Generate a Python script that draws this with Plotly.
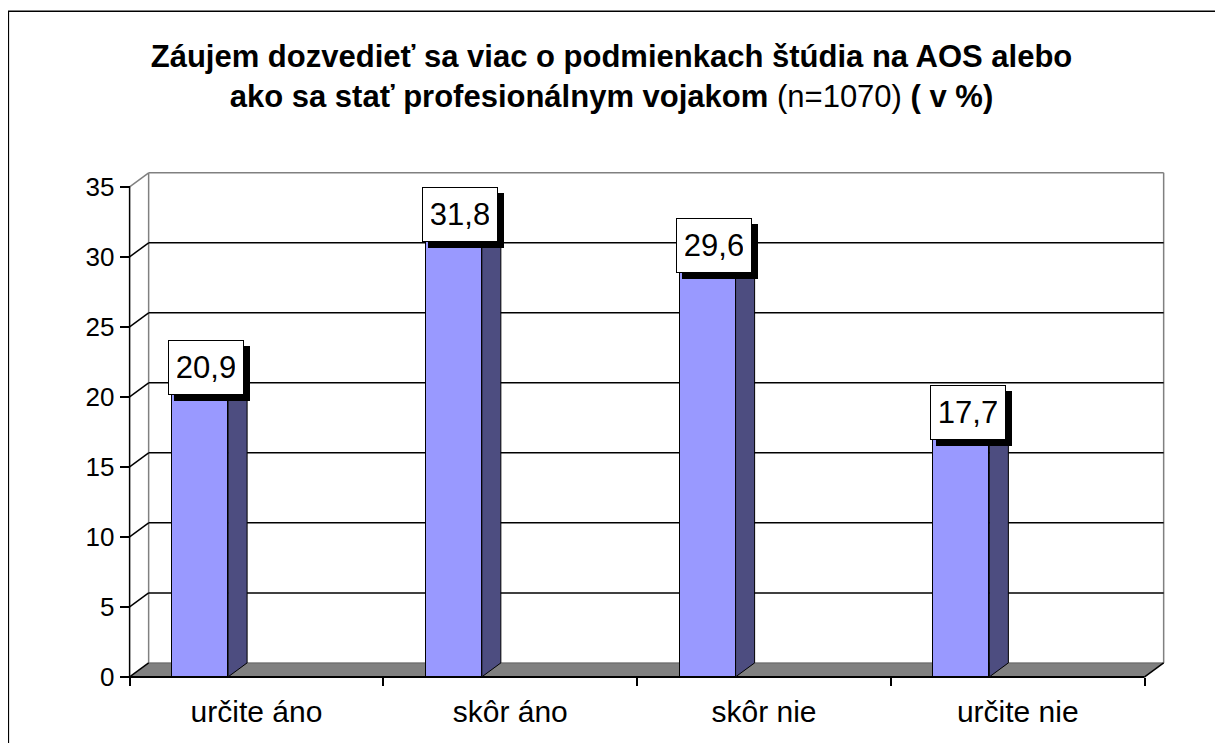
import plotly.graph_objects as go

# ---- data ----
categories = ["určite áno", "skôr áno", "skôr nie", "určite nie"]
values = [20.9, 31.8, 29.6, 17.7]
value_labels = ["20,9", "31,8", "29,6", "17,7"]
y_ticks = [0, 5, 10, 15, 20, 25, 30, 35]

# ---- geometry (in axis units) ----
FONT = "Liberation Sans, Arial, sans-serif"
PAGE_OFF = 8                    # default body margin of the html page
W, H = 1223 - 2 * PAGE_OFF, 751 - 2 * PAGE_OFF
UX, UY = 253.75, 14.0          # px per unit
X_LO, X_HI = -0.53, 3.6
Y_LO, Y_HI = -0.15, 36.2
AX_LEFT, AX_BOTTOM = 130.0 - PAGE_OFF, 677.0 - PAGE_OFF   # front-axis pixel position
DX, DY = 0.075, 1.0            # 3-D depth offset in axis units
BAR_OFF, BAR_W = -0.333, 0.221
YMAX = 35

left_px = AX_LEFT - (-0.5 - X_LO) * UX
right_px = AX_LEFT + (X_HI + 0.5) * UX
bottom_px = AX_BOTTOM + (0 - Y_LO) * UY
top_px = AX_BOTTOM - Y_HI * UY
plot_w = right_px - left_px
plot_h = bottom_px - top_px

FRONT = "#9999FF"
SIDE = "#4D4D80"
TOPC = "#B3B3FF"
GRAY = "#808080"

fig = go.Figure()
idx = list(range(len(categories)))
fig.add_trace(go.Bar(
    x=idx, y=values, offset=BAR_OFF, width=BAR_W,
    marker=dict(color=FRONT, line=dict(color="black", width=1)),
    hoverinfo="skip", showlegend=False,
))

shapes = []
xl, xr = -0.5, len(categories) - 0.5
# floor
shapes.append(dict(type="path", layer="below", xref="x", yref="y",
                   path=f"M{xl},0 L{xr},0 L{xr+DX},{DY} L{xl+DX},{DY} Z",
                   fillcolor=GRAY, line=dict(width=0)))
shapes.append(dict(type="line", layer="below", xref="x", yref="y",
                   x0=xl + DX, y0=DY, x1=xr + DX, y1=DY,
                   line=dict(color="#606060", width=1)))
# back wall edges
shapes.append(dict(type="line", layer="below", xref="x", yref="y",
                   x0=xl + DX, y0=DY, x1=xl + DX, y1=YMAX + DY,
                   line=dict(color=GRAY, width=1.5)))
shapes.append(dict(type="line", layer="below", xref="x", yref="y",
                   x0=xr + DX, y0=DY, x1=xr + DX, y1=YMAX + DY,
                   line=dict(color=GRAY, width=1.5)))
shapes.append(dict(type="line", layer="below", xref="x", yref="y",
                   x0=xl + DX, y0=YMAX + DY, x1=xr + DX, y1=YMAX + DY,
                   line=dict(color=GRAY, width=1.5)))
shapes.append(dict(type="line", layer="below", xref="x", yref="y",
                   x0=xl, y0=YMAX, x1=xl + DX, y1=YMAX + DY,
                   line=dict(color=GRAY, width=1.5)))
# gridlines
for v in y_ticks:
    if v == 0 or v == YMAX:
        continue
    shapes.append(dict(type="line", layer="below", xref="x", yref="y",
                       x0=xl + DX, y0=v + DY, x1=xr + DX, y1=v + DY,
                       line=dict(color="black", width=1.5)))
for v in y_ticks:
    if v == YMAX:
        continue
    shapes.append(dict(type="line", layer="below", xref="x", yref="y",
                       x0=xl, y0=v, x1=xl + DX, y1=v + DY,
                       line=dict(color="black", width=1.5)))
# front axes lines
shapes.append(dict(type="line", layer="above", xref="x", yref="y",
                   x0=xl, y0=0, x1=xl, y1=YMAX,
                   line=dict(color="black", width=1.5)))
shapes.append(dict(type="line", layer="above", xref="x", yref="y",
                   x0=xl, y0=0, x1=xr, y1=0,
                   line=dict(color="black", width=2)))
shapes.append(dict(type="line", layer="above", xref="x", yref="y",
                   x0=xr, y0=0, x1=xr + DX, y1=DY,
                   line=dict(color="black", width=1.5)))
# bar sides and tops
for i, v in zip(idx, values):
    x0 = i + BAR_OFF
    x1 = x0 + BAR_W
    shapes.append(dict(type="path", layer="above", xref="x", yref="y",
                       path=f"M{x1},0 L{x1+DX},{DY} L{x1+DX},{v+DY} L{x1},{v} Z",
                       fillcolor=SIDE, line=dict(color="black", width=1)))
    shapes.append(dict(type="path", layer="above", xref="x", yref="y",
                       path=f"M{x0},{v} L{x1},{v} L{x1+DX},{v+DY} L{x0+DX},{v+DY} Z",
                       fillcolor=TOPC, line=dict(color="black", width=1)))
# outer chart border (decoration)
shapes.append(dict(type="rect", layer="above", xref="paper", yref="paper",
                   x0=(0.75 - left_px) / plot_w, x1=(W + 30 - left_px) / plot_w,
                   y0=(bottom_px - H - 30) / plot_h, y1=(bottom_px - 3.5) / plot_h,
                   line=dict(color="black", width=1.5)))

annotations = []
for i, v, t in zip(idx, values, value_labels):
    cx = i + BAR_OFF + BAR_W / 2 + 0.025
    cy = v + 1.2
    for shadow in (True, False):
        annotations.append(dict(
            x=cx, y=cy, xref="x", yref="y",
            text="\u00a0" if shadow else t, showarrow=False,
            xshift=6 if shadow else 0, yshift=-6 if shadow else 0,
            font=dict(family=FONT, size=31, color="black"),
            bgcolor="black" if shadow else "white",
            bordercolor="black", borderwidth=1, borderpad=8,
            width=58, height=37, align="center", valign="middle",
        ))

fig.update_layout(
    width=W, height=H, autosize=False,
    margin=dict(l=left_px, r=W - right_px, t=top_px, b=H - bottom_px, pad=0),
    paper_bgcolor="white", plot_bgcolor="white",
    font=dict(family=FONT, color="black"),
    title=dict(
        text="<b>Záujem dozvedieť sa viac o podmienkach štúdia na AOS alebo<br>"
             "ako sa stať profesionálnym vojakom</b> (n=1070) <b>( v %)</b>",
        font=dict(family=FONT, size=31, color="black"),
        x=0.5, xref="container", xanchor="center",
        y=1 - 58.5 / H, yref="container", yanchor="middle",
    ),
    xaxis=dict(
        range=[X_LO, X_HI], showgrid=False, zeroline=False, showline=False,
        tickmode="array", tickvals=idx, ticktext=categories,
        ticks="outside", ticklen=8, tickcolor="rgba(0,0,0,0)",
        tickfont=dict(family=FONT, size=30, color="black"),
        minor=dict(tickmode="array", tickvals=[i - 0.5 for i in range(len(categories) + 1)],
                   ticks="outside", ticklen=8, tickcolor="black", tickwidth=1.5, showgrid=False),
        anchor="free", position=(0 - Y_LO) * UY / plot_h, fixedrange=True,
    ),
    yaxis=dict(
        range=[Y_LO, Y_HI], showgrid=False, zeroline=False, showline=False,
        tickmode="array", tickvals=y_ticks,
        ticks="outside", ticklen=10, tickcolor="black", tickwidth=1.5,
        tickfont=dict(family=FONT, size=26, color="black"),
        anchor="free", position=(-0.5 - X_LO) * UX / plot_w, fixedrange=True,
    ),
    shapes=shapes, annotations=annotations, bargap=0,
)

fig.write_html("out.html")
